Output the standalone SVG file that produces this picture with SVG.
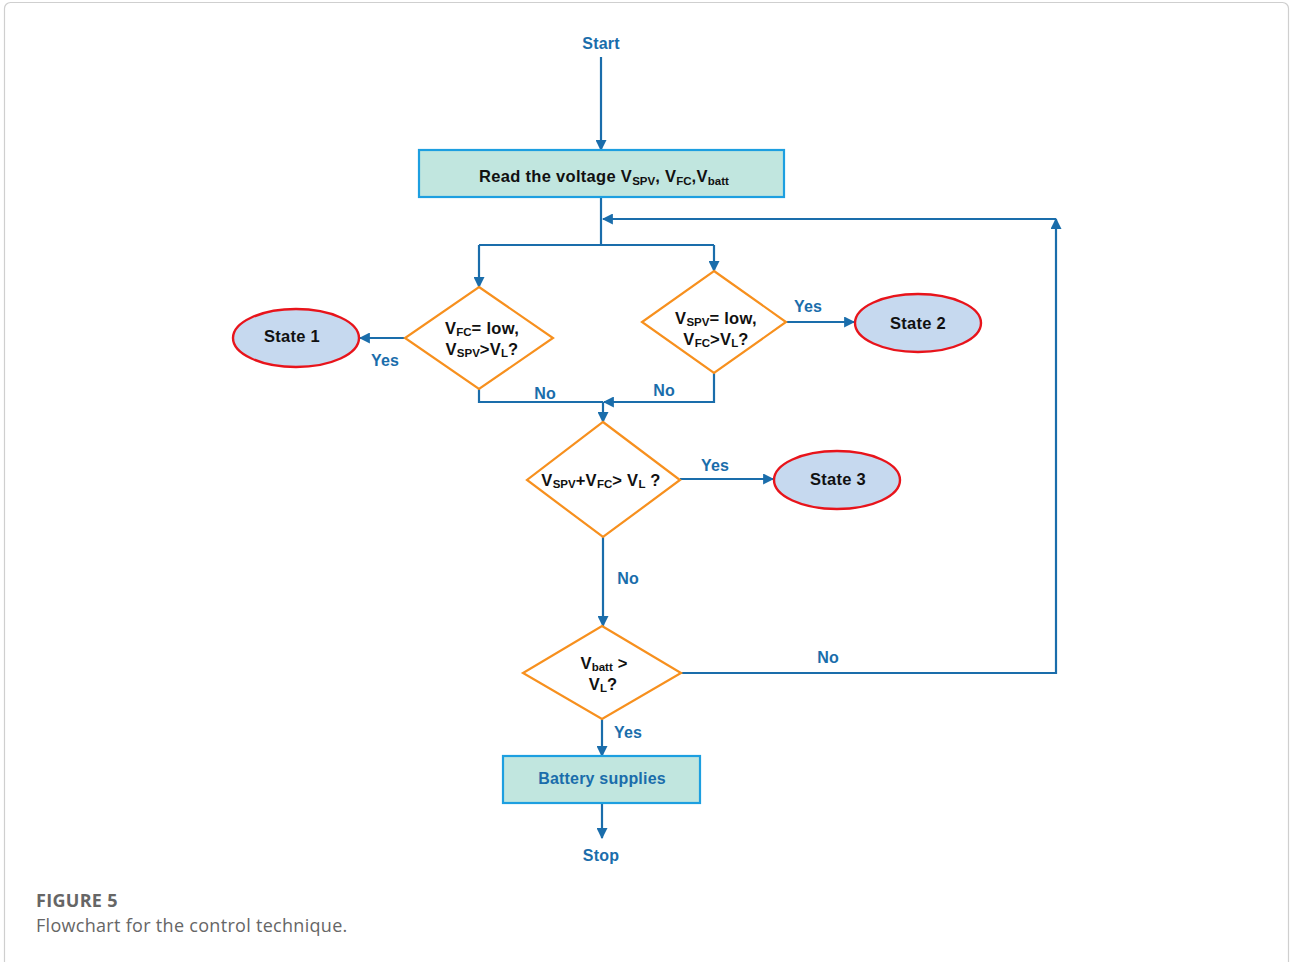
<svg xmlns="http://www.w3.org/2000/svg" width="1290" height="962" viewBox="0 0 1290 962">
<style>
.ln{fill:none;stroke:#1a6dab;stroke-width:2.2}
.box{fill:#c1e6df;stroke:#1d9fe0;stroke-width:2.2}
.dia{fill:#fff;stroke:#f7901e;stroke-width:2.2}
.ell{fill:#c6d9ef;stroke:#e8141b;stroke-width:2.4}
.t{font-family:"Liberation Sans",Arial,sans-serif;font-weight:bold;font-size:16.5px;letter-spacing:0.3px;fill:#111;text-anchor:middle}
.lb{font-family:"Liberation Sans",Arial,sans-serif;font-weight:bold;font-size:16px;letter-spacing:0.2px;fill:#1a6dab;text-anchor:middle}
.s{font-size:11.5px;letter-spacing:0}
.cap{font-family:"Open Sans","Liberation Sans",sans-serif;fill:#666;font-size:18px;letter-spacing:0.3px}
</style>
<defs>
<marker id="ar" viewBox="0 0 10 10" refX="9" refY="5" markerWidth="5" markerHeight="5" orient="auto" markerUnits="strokeWidth">
<path d="M0,0 L10,5 L0,10 z" fill="#1a6dab"/>
</marker>
</defs>
<rect x="4.5" y="2.5" width="1284" height="990" rx="6" fill="#fff" stroke="#cfcfcf" stroke-width="1.2"/>

<g id="connectors">
<path class="ln" d="M601,57 V150" marker-end="url(#ar)"/>
<path class="ln" d="M601,197 V245"/>
<path class="ln" d="M479,245 H714"/>
<path class="ln" d="M479,245 V287" marker-end="url(#ar)"/>
<path class="ln" d="M714,245 V271" marker-end="url(#ar)"/>
<path class="ln" d="M405,338 H360" marker-end="url(#ar)"/>
<path class="ln" d="M786,322 H854" marker-end="url(#ar)"/>
<path class="ln" d="M479,389 V402 H603"/>
<path class="ln" d="M714,373 V402 H604" marker-end="url(#ar)"/>
<path class="ln" d="M603,402 V422" marker-end="url(#ar)"/>
<path class="ln" d="M680,479 H773" marker-end="url(#ar)"/>
<path class="ln" d="M603,537 V626" marker-end="url(#ar)"/>
<path class="ln" d="M681,673 H1056 V219" marker-end="url(#ar)"/>
<path class="ln" d="M1056,219 H603" marker-end="url(#ar)"/>
<path class="ln" d="M602,719 V756" marker-end="url(#ar)"/>
<path class="ln" d="M602,803 V838" marker-end="url(#ar)"/>
<text class="lb" x="385" y="366">Yes</text>
<text class="lb" x="808" y="312">Yes</text>
<text class="lb" x="545" y="399">No</text>
<text class="lb" x="664" y="396">No</text>
<text class="lb" x="715" y="471">Yes</text>
<text class="lb" x="628" y="584">No</text>
<text class="lb" x="828" y="663">No</text>
<text class="lb" x="628" y="738">Yes</text>
</g>

<g id="start"><text class="lb" x="601" y="49">Start</text></g>

<g id="read">
<rect class="box" x="419" y="150" width="365" height="47"/>
<text class="t" x="604" y="182">Read the voltage V<tspan class="s" dy="3">SPV</tspan><tspan dy="-3">, V</tspan><tspan class="s" dy="3">FC</tspan><tspan dy="-3">,V</tspan><tspan class="s" dy="3">batt</tspan></text>
</g>

<g id="d1">
<polygon class="dia" points="479,287 553,338 479,389 405,338"/>
<text class="t" x="482" y="334">V<tspan class="s" dy="2">FC</tspan><tspan dy="-2">= low,</tspan></text>
<text class="t" x="482" y="355">V<tspan class="s" dy="2">SPV</tspan><tspan dy="-2">&gt;V</tspan><tspan class="s" dy="2">L</tspan><tspan dy="-2">?</tspan></text>
</g>

<g id="state1">
<ellipse class="ell" cx="296" cy="338" rx="63" ry="29"/>
<text class="t" x="292" y="342">State 1</text>
</g>

<g id="d2">
<polygon class="dia" points="714,271 786,322 714,373 642,322"/>
<text class="t" x="716" y="324">V<tspan class="s" dy="2">SPV</tspan><tspan dy="-2">= low,</tspan></text>
<text class="t" x="716" y="345">V<tspan class="s" dy="2">FC</tspan><tspan dy="-2">&gt;V</tspan><tspan class="s" dy="2">L</tspan><tspan dy="-2">?</tspan></text>
</g>

<g id="state2">
<ellipse class="ell" cx="918" cy="323" rx="63" ry="29"/>
<text class="t" x="918" y="329">State 2</text>
</g>

<g id="d3">
<polygon class="dia" points="603,422 680,480 603,537 527,480"/>
<text class="t" x="601" y="486">V<tspan class="s" dy="2">SPV</tspan><tspan dy="-2">+V</tspan><tspan class="s" dy="2">FC</tspan><tspan dy="-2">&gt; V</tspan><tspan class="s" dy="2">L</tspan><tspan dy="-2"> ?</tspan></text>
</g>

<g id="state3">
<ellipse class="ell" cx="837" cy="480" rx="63" ry="29"/>
<text class="t" x="838" y="485">State 3</text>
</g>

<g id="d4">
<polygon class="dia" points="602,626 681,673 602,719 523,673"/>
<text class="t" x="604" y="669">V<tspan class="s" dy="2">batt</tspan><tspan dy="-2"> &gt;</tspan></text>
<text class="t" x="603" y="690">V<tspan class="s" dy="2">L</tspan><tspan dy="-2">?</tspan></text>
</g>

<g id="battery">
<rect class="box" x="503" y="756" width="197" height="47"/>
<text class="lb" x="602" y="784">Battery supplies</text>
</g>

<g id="stop"><text class="lb" x="601" y="861">Stop</text></g>

<g id="caption">
<text class="cap" x="36" y="907" font-weight="bold">FIGURE 5</text>
<text class="cap" x="36" y="932">Flowchart for the control technique.</text>
</g>
</svg>
